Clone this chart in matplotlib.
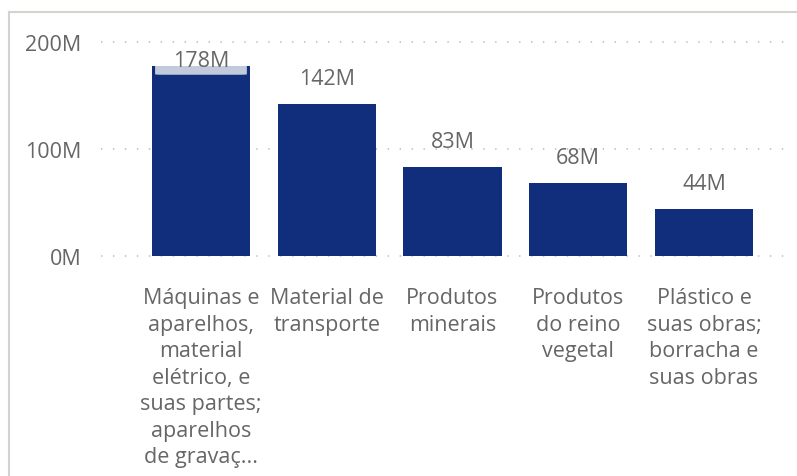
import matplotlib
matplotlib.use("Agg")
import matplotlib.pyplot as plt
from matplotlib.patches import FancyBboxPatch
from matplotlib.lines import Line2D

categories = [
    "Máquinas e\naparelhos,\nmaterial\nelétrico, e\nsuas partes;\naparelhos\nde gravaç...",
    "Material de\ntransporte",
    "Produtos\nminerais",
    "Produtos\ndo reino\nvegetal",
    "Plástico e\nsuas obras;\nborracha e\nsuas obras",
]
values_m = [178, 142, 83, 68, 44]
yticks_m = [0, 100, 200]

BAR = "#102e7c"
TXT = "#666666"
FRAME = "#d3d3cf"
FS = 15.5

plt.rcParams["font.family"] = ["Open Sans", "DejaVu Sans"]
plt.rcParams["lines.scale_dashes"] = False

W, H = 797, 477
fig = plt.figure(figsize=(W / 100, H / 100), dpi=100)
ax = fig.add_axes([101 / W, (H - 257) / H, (789 - 101) / W, (257 - 43) / H])

x = list(range(len(categories)))
bars = ax.bar(x, values_m, width=0.78, color=BAR, zorder=2)
ax.set_xlim(-0.795, 4.676)
ax.set_ylim(0, 200)

# dotted gridlines
for v in yticks_m:
    ax.axhline(v, color="#c8c8c8", lw=1.4, dashes=(1.0, 7.6), zorder=1, clip_on=False)

ax.set_yticks(yticks_m)
ax.set_yticklabels([f"{v}M" for v in yticks_m])
ax.set_xticks(x)
ax.set_xticklabels(categories, linespacing=1.34)
ax.tick_params(axis="both", length=0, colors=TXT, labelsize=FS)
ax.tick_params(axis="y", pad=14)
ax.tick_params(axis="x", pad=22.6)
for sp in ax.spines.values():
    sp.set_visible(False)

# data labels
for i, (b, v) in enumerate(zip(bars, values_m)):
    if v >= 170:
        # label inside end, with a light background band clipped to the bar
        box = FancyBboxPatch((i - 0.365, v - 8.6), 0.73, 20,
                             boxstyle="round,pad=0,rounding_size=0.05",
                             mutation_aspect=8, facecolor="#c2cbdc",
                             edgecolor="none", zorder=3)
        ax.add_patch(box)
        box.set_clip_path(b)
        ax.annotate(f"{v}M", (i, v), xytext=(0, 0), textcoords="offset points",
                    ha="center", va="baseline", color=TXT, fontsize=FS,
                    zorder=4, annotation_clip=False)
    else:
        ax.annotate(f"{v}M", (i, v), xytext=(0, 14.5), textcoords="offset points",
                    ha="center", va="baseline", color=TXT, fontsize=FS, zorder=4)

# visual frame (top and left edges)
fig.add_artist(Line2D([9 / W, 1], [1 - 13 / H, 1 - 13 / H], color=FRAME, lw=1.5))
fig.add_artist(Line2D([9 / W, 9 / W], [0, 1 - 13 / H], color=FRAME, lw=1.5))

fig.savefig("out.png", dpi=100, facecolor="white")
